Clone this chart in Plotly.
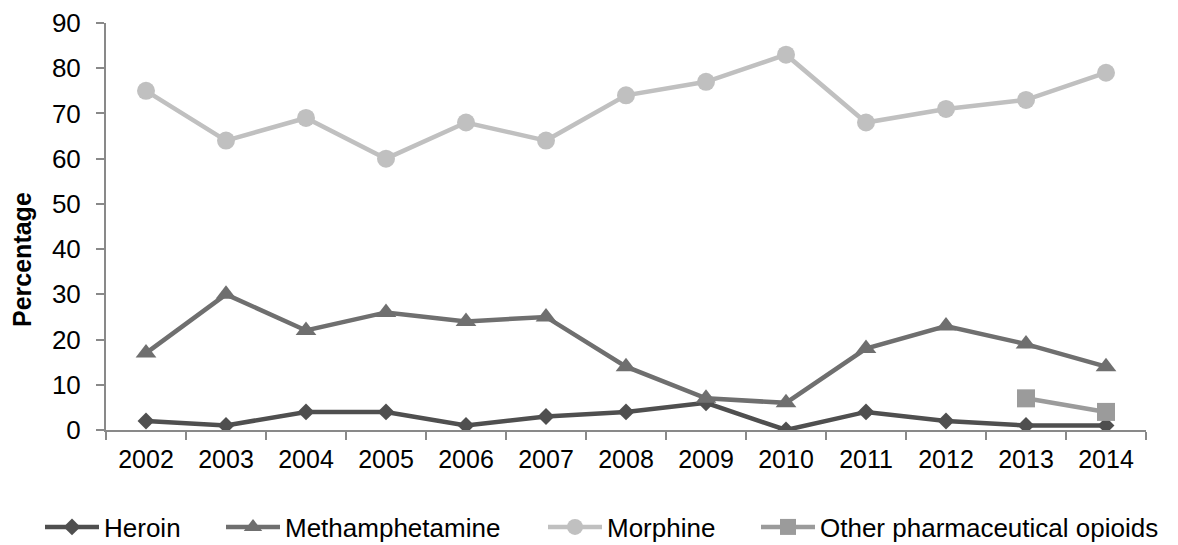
import plotly.graph_objects as go

years = ["2002", "2003", "2004", "2005", "2006", "2007", "2008", "2009", "2010", "2011", "2012", "2013", "2014"]
heroin = [2, 1, 4, 4, 1, 3, 4, 6, 0, 4, 2, 1, 1]
meth = [17, 30, 22, 26, 24, 25, 14, 7, 6, 18, 23, 19, 14]
morphine = [75, 64, 69, 60, 68, 64, 74, 77, 83, 68, 71, 73, 79]
other_years = ["2013", "2014"]
other = [7, 4]

C_HER = "#4f4f4f"
C_METH = "#6f6f6f"
C_MOR = "#c0c0c0"
C_OTH = "#9b9b9b"

fig = go.Figure()
fig.add_trace(go.Scatter(x=years, y=heroin, name="Heroin", mode="lines+markers", legend="legend",
                         line=dict(color=C_HER, width=4.5),
                         marker=dict(symbol="diamond", size=13, color=C_HER)))
fig.add_trace(go.Scatter(x=years, y=meth, name="Methamphetamine", mode="lines+markers", legend="legend2",
                         line=dict(color=C_METH, width=4.5),
                         marker=dict(symbol="triangle-up", size=18, color=C_METH)))
fig.add_trace(go.Scatter(x=years, y=morphine, name="Morphine", mode="lines+markers", legend="legend3",
                         line=dict(color=C_MOR, width=4.5),
                         marker=dict(symbol="circle", size=18, color=C_MOR)))
fig.add_trace(go.Scatter(x=other_years, y=other, name="Other pharmaceutical opioids", mode="lines+markers",
                         legend="legend4",
                         line=dict(color=C_OTH, width=4.5),
                         marker=dict(symbol="square", size=18, color=C_OTH)))

leg_common = dict(orientation="h", xref="container", yref="container", xanchor="left",
                  y=0.033, yanchor="middle", font=dict(size=26, color="#000000"),
                  itemwidth=54, bgcolor="rgba(0,0,0,0)")
legend_x = [40, 221, 543, 756]

fig.update_layout(
    width=1178, height=545,
    margin=dict(l=106, r=32, t=23, b=115, autoexpand=False),
    paper_bgcolor="white", plot_bgcolor="white",
    font=dict(family="Liberation Sans, Arial, sans-serif", size=25, color="#000000"),
    showlegend=True,
    legend=dict(x=legend_x[0] / 1178, **leg_common),
    legend2=dict(x=legend_x[1] / 1178, **leg_common),
    legend3=dict(x=legend_x[2] / 1178, **leg_common),
    legend4=dict(x=legend_x[3] / 1178, **leg_common),
    xaxis=dict(type="category", range=[-0.5, 12.5], showgrid=False, zeroline=False,
               showline=True, linecolor="#898989", linewidth=2, automargin=False,
               ticks="outside", tickson="boundaries", ticklen=8, tickcolor="#898989", tickwidth=2,
               tickfont=dict(size=25), ticklabelstandoff=6),
    yaxis=dict(range=[0, 90], dtick=10, showgrid=False, zeroline=False,
               showline=True, linecolor="#898989", linewidth=2, automargin=False,
               ticks="outside", ticklen=8, tickcolor="#898989", tickwidth=2,
               tickfont=dict(size=26), ticklabelstandoff=10),
    annotations=[dict(text="<b>Percentage</b>", textangle=-90, xref="paper", yref="paper",
                      x=(22 - 106) / 1040, y=(430 - 260) / 407, xanchor="center", yanchor="middle",
                      showarrow=False, font=dict(size=25, color="#000000"))],
)

fig.write_html("out.html", config={"displayModeBar": False},
               post_script="document.body.style.margin='0';")
